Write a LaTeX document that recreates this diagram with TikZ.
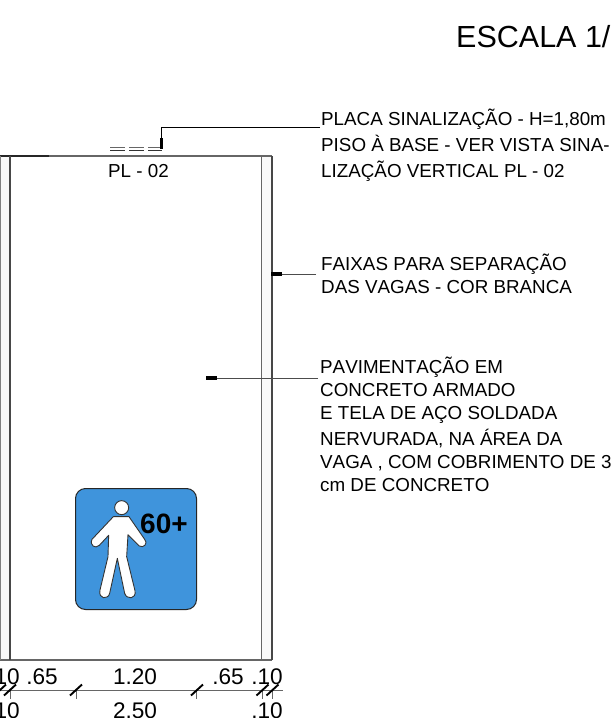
\documentclass[tikz,border=0pt]{standalone}
\usepackage{fontspec}
\setmainfont[Kerning=Off]{Liberation Sans}
\definecolor{signblue}{HTML}{3F94DC}
\definecolor{ln}{gray}{0.4}
\definecolor{stripe}{gray}{0.975}
\begin{document}
\begin{tikzpicture}[x=1pt,y=-1pt,
  lab/.style={anchor=base west,inner sep=0pt,font=\fontsize{18.8}{21}\selectfont},
  dim/.style={anchor=base,inner sep=0pt,font=\fontsize{22.6}{24}\selectfont},
  grayline/.style={draw=ln,line width=1.2pt},
  darkline/.style={draw=black!72,line width=1.1pt},
  leader/.style={draw=black!70,line width=1pt},
  blob/.style={draw=black,line width=3.4pt},
  tick/.style={draw=black,line width=1.9pt},
  ext/.style={draw=ln,line width=0.9pt}]
\useasboundingbox (0,0) rectangle (613,718);
\clip (0,0) rectangle (613,718);
\fill[white] (0,0) rectangle (613,718);
% strips
\fill[stripe] (0,156) rectangle (10,660);
\fill[stripe] (261.5,156) rectangle (272,660);
% parking bay
\draw[grayline] (0,156) -- (272,156);
\draw[grayline] (0,660) -- (272,660);
\draw[draw=black!85,line width=1.1pt] (0,156) -- (49,156);
\draw[draw=black!50,line width=0.9pt] (0.4,156) -- (0.4,660);
\draw[darkline] (10,156) -- (10,660);
\draw[grayline] (261.5,156) -- (261.5,660);
\draw[darkline] (272,156) -- (272,660);
% title
\node[anchor=base west,inner sep=0pt,font=\fontsize{30.5}{33}\selectfont] (title) at (456,47) {ESCALA 1/};
% sign plate
\foreach \a/\b in {110/125,129/144,148/162}{
  \draw[ln,line width=0.8pt] (\a,147) -- (\b,147);
  \draw[black!80,line width=0.8pt] (\a,150.5) -- (\b,150.5);
}
\node[anchor=base,inner sep=0pt,font=\fontsize{18.8}{21}\selectfont] (plt) at (138.5,177) {PL - 02};
% labels
\node[lab] (a1) at (321,125) {PLACA SINALIZAÇÃO - H=1,80m};
\node[lab] (a2) at (321,151) {PISO À BASE - VER VISTA SINA-};
\node[lab] (a3) at (321,177) {LIZAÇÃO VERTICAL PL - 02};
\node[lab] (b1) at (321,270) {FAIXAS PARA SEPARAÇÃO};
\node[lab] (b2) at (321,293) {DAS VAGAS - COR BRANCA};
\node[lab] (c1) at (320,373) {PAVIMENTAÇÃO EM};
\node[lab] (c2) at (320,396) {CONCRETO ARMADO};
\node[lab] (c3) at (320,419) {E TELA DE AÇO SOLDADA};
\node[lab] (c4) at (320,445) {NERVURADA, NA ÁREA DA};
\node[lab] (c5) at (320,468) {VAGA , COM COBRIMENTO DE 3};
\node[lab] (c6) at (320,491) {cm DE CONCRETO};
% leaders
\coordinate (pA) at (320,127.5);
\coordinate (pB) at (161.5,127.5);
\coordinate (pC) at (161.5,149);
\coordinate (pD) at (161.5,138);
\draw[black,line width=1pt] (pA) -- (pB) -- (pC);
\draw[blob] (pD) -- (pC);
\coordinate (qA) at (316,274);
\coordinate (qB) at (271,274);
\coordinate (qC) at (282,274);
\draw[leader] (qA) -- (qC);
\draw[blob] (qC) -- (qB);
\coordinate (rA) at (318,378);
\coordinate (rB) at (206,378);
\coordinate (rC) at (217,378);
\draw[leader] (rA) -- (rC);
\draw[blob] (rC) -- (rB);
% sign
\draw[fill=signblue,draw=black!85,line width=1pt,rounded corners=10pt] (75.5,488.5) rectangle (196.5,609.5);
\begin{scope}[shift={(60,470)},x=0.3333pt,y=-0.3333pt]
  \draw[fill=white,draw=black!80,line width=0.9pt] (185,113) circle[radius=21];
  \draw[fill=white,draw=black!80,line width=0.9pt,line join=round]
    (160,140) -- (96,208) .. controls (88,226) and (106,238) .. (118,226)
    -- (146,196) -- (144,260) -- (120,360) .. controls (114,388) and (144,390) .. (149,370)
    -- (172,265) -- (194,370) .. controls (200,390) and (230,388) .. (225,362)
    -- (200,260) -- (204,194) -- (238,228) .. controls (250,236) and (266,220) .. (254,208)
    -- (207,140) -- cycle;
\end{scope}
\node[anchor=base west,inner sep=0pt,font=\fontsize{28}{30}\selectfont\bfseries] (sixty) at (140,533) {60+};
% dimensions
\coordinate (d0) at (0,690);
\coordinate (d1) at (283,690);
\draw[ext] (d0) -- (d1);
\foreach \x in {10,76,196.5,262,272}{
  \draw[ext] (\x,690) -- ++(0,9);
}
\foreach \x in {0,10,76,197,262.5,272.5}{
  \draw[tick] (\x-6,695.5) -- (\x+6,684.5);
}
\node[dim,anchor=base east] (t1) at (20,684) {.10};
\node[dim] (t2) at (42,684) {.65};
\node[dim] (t3) at (135,684) {1.20};
\node[dim] (t4) at (228,684) {.65};
\node[dim] (t5) at (267,684) {.10};
\node[dim,anchor=base east] (u1) at (20,718.5) {.10};
\node[dim] (u2) at (135,718.5) {2.50};
\node[dim] (u3) at (267,718.5) {.10};
\end{tikzpicture}
\end{document}
